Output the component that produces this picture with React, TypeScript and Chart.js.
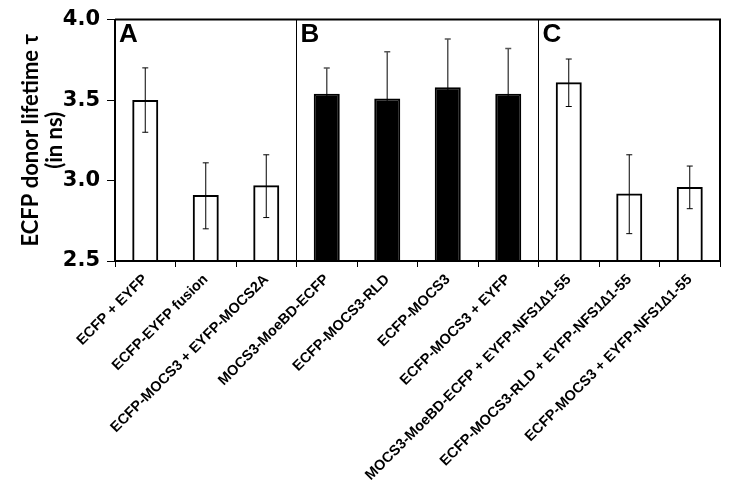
import React, { useEffect, useRef } from "react";
import { Chart, registerables } from "chart.js";

Chart.register(...registerables);

const categories = [
  "ECFP + EYFP",
  "ECFP-EYFP fusion",
  "ECFP-MOCS3 + EYFP-MOCS2A",
  "MOCS3-MoeBD-ECFP",
  "ECFP-MOCS3-RLD",
  "ECFP-MOCS3",
  "ECFP-MOCS3 + EYFP",
  "MOCS3-MoeBD-ECFP + EYFP-NFS1\u22061-55",
  "ECFP-MOCS3-RLD + EYFP-NFS1\u22061-55",
  "ECFP-MOCS3 + EYFP-NFS1\u22061-55",
];
const lifetimes = [3.5, 2.91, 2.97, 3.54, 3.51, 3.58, 3.54, 3.61, 2.92, 2.96];
const errPlus = [0.2, 0.2, 0.19, 0.16, 0.29, 0.3, 0.28, 0.145, 0.24, 0.13];
const errMinus = [0.2, 0.21, 0.2, 0.16, 0.29, 0.3, 0.28, 0.15, 0.25, 0.135];
const filled = [false, false, false, true, true, true, true, false, false, false];
const panelLabels = ["A", "B", "C"];
const panelStarts = [0, 3, 7];
const yTicks = [2.5, 3.0, 3.5, 4.0];

const FONT = "'Liberation Sans', Arial, sans-serif";

const errorBarPlugin = {
  id: "errorBars",
  beforeDatasetsDraw(chart: any) {
    const ctx = chart.ctx;
    const meta = chart.getDatasetMeta(0);
    const y = chart.scales.y;
    ctx.save();
    meta.data.forEach((bar: any, i: number) => {
      const x = bar.x;
      const top = y.getPixelForValue(lifetimes[i] + errPlus[i]);
      const bot = y.getPixelForValue(lifetimes[i] - errMinus[i]);
      ctx.strokeStyle = filled[i] ? "#555" : "#000";
      ctx.lineWidth = filled[i] ? 1.5 : 1;
      ctx.beginPath();
      ctx.moveTo(x, top);
      ctx.lineTo(x, bot);
      ctx.moveTo(x - 3, top);
      ctx.lineTo(x + 3, top);
      ctx.moveTo(x - 3, bot);
      ctx.lineTo(x + 3, bot);
      ctx.stroke();
    });
    ctx.restore();
  },
};

const framePlugin = {
  id: "frame",
  afterDraw(chart: any) {
    const { ctx, chartArea } = chart;
    const xs = chart.scales.x;
    ctx.save();
    ctx.strokeStyle = "#000";
    ctx.lineWidth = 2;
    ctx.beginPath();
    ctx.moveTo(chartArea.left, chartArea.top);
    ctx.lineTo(chartArea.right, chartArea.top);
    ctx.lineTo(chartArea.right, chartArea.bottom);
    ctx.stroke();
    const half = (xs.getPixelForValue(1) - xs.getPixelForValue(0)) / 2;
    ctx.fillStyle = "#000";
    ctx.font = `bold 26px ${FONT}`;
    ctx.textBaseline = "top";
    ctx.textAlign = "left";
    panelLabels.forEach((lab, k) => {
      const x0 = xs.getPixelForValue(panelStarts[k]) - half;
      ctx.fillText(lab, x0 + 4, chartArea.top + 2);
    });
    ctx.restore();
  },
};

export default function App() {
  const ref = useRef<HTMLCanvasElement>(null);
  useEffect(() => {
    document.body.style.margin = "0";
    const chart = new Chart(ref.current as HTMLCanvasElement, {
      type: "bar",
      data: {
        labels: categories,
        datasets: [
          {
            data: lifetimes,
            backgroundColor: filled.map((f) => (f ? "#000" : "rgba(255,255,255,0)")),
            borderColor: "#000",
            borderWidth: 2,
            barPercentage: 0.43,
            categoryPercentage: 1,
          },
        ],
      },
      options: {
        responsive: false,
        animation: false,
        layout: { padding: { top: 16, right: 9, left: 0, bottom: 0 } },
        plugins: { legend: { display: false }, tooltip: { enabled: false } },
        scales: {
          x: {
            grid: {
              offset: true,
              drawOnChartArea: true,
              color: (c: any) => (c.index === 3 || c.index === 7 ? "#000" : "rgba(0,0,0,0)"),
              tickColor: "#000",
              tickLength: 6,
              lineWidth: 1,
            },
            border: { color: "#000", width: 2 },
            ticks: {
              autoSkip: false,
              maxRotation: 45,
              minRotation: 45,
              color: "#000",
              padding: 4,
              font: { family: FONT, weight: "bold", size: 14.5 },
            },
            afterFit: (s: any) => {
              s.height = 226;
            },
          },
          y: {
            min: 2.5,
            max: 4.0,
            afterBuildTicks: (s: any) => {
              s.ticks = yTicks.map((v) => ({ value: v }));
            },
            ticks: {
              color: "#000",
              padding: 7,
              callback: (v: any) => Number(v).toFixed(1),
              font: { family: "'DejaVu Sans', Verdana, sans-serif", weight: "bold", size: 21 },
            },
            grid: { drawOnChartArea: false, tickColor: "#000", tickLength: 8 },
            border: { color: "#000", width: 2 },
            title: {
              display: true,
              text: ["ECFP donor lifetime \u03c4", "(in ns)"],
              color: "#000",
              padding: { top: 19, bottom: 0 },
              font: { family: "Lato, sans-serif", weight: "bold", size: 22, lineHeight: 1.08 },
            },
            afterFit: (s: any) => {
              s.width = 115;
            },
          },
        },
      },
      plugins: [errorBarPlugin, framePlugin],
    });
    return () => chart.destroy();
  }, []);
  return (
    <div style={{ width: 729, height: 487 }}>
      <canvas ref={ref} width={729} height={487} />
    </div>
  );
}
